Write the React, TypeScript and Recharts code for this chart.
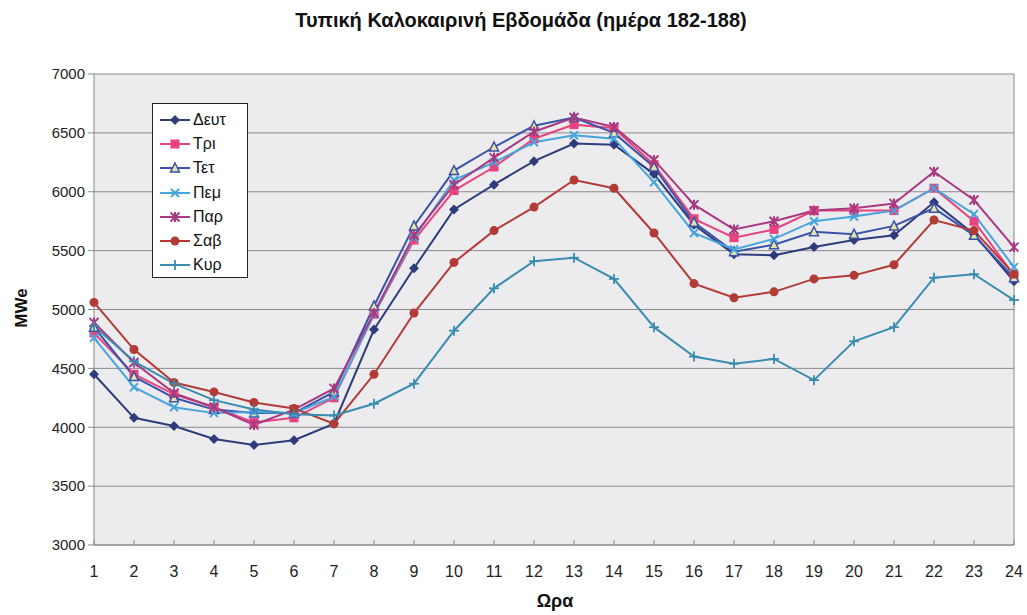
import React from 'react';
import { LineChart, Line, XAxis, YAxis, CartesianGrid, ReferenceLine } from 'recharts';

const hours = [1, 2, 3, 4, 5, 6, 7, 8, 9, 10, 11, 12, 13, 14, 15, 16, 17, 18, 19, 20, 21, 22, 23, 24];
const yTicks = [3000, 3500, 4000, 4500, 5000, 5500, 6000, 6500, 7000];

const deut = [4450, 4080, 4010, 3900, 3850, 3890, 4030, 4830, 5350, 5850, 6060, 6260, 6410, 6400, 6150, 5720, 5470, 5460, 5530, 5590, 5630, 5910, 5640, 5240];
const tri = [4800, 4450, 4280, 4170, 4040, 4080, 4250, 4960, 5590, 6010, 6210, 6450, 6570, 6540, 6230, 5770, 5610, 5680, 5840, 5840, 5840, 6030, 5750, 5290];
const tet = [4850, 4430, 4250, 4150, 4120, 4120, 4300, 5030, 5710, 6180, 6380, 6560, 6630, 6500, 6210, 5740, 5490, 5550, 5660, 5640, 5710, 5860, 5630, 5270];
const pem = [4760, 4340, 4170, 4120, 4130, 4120, 4260, 4960, 5610, 6100, 6250, 6420, 6480, 6450, 6080, 5650, 5510, 5600, 5750, 5790, 5840, 6030, 5810, 5360];
const par = [4890, 4550, 4290, 4170, 4020, 4150, 4330, 4970, 5630, 6060, 6290, 6510, 6630, 6550, 6270, 5890, 5680, 5750, 5840, 5860, 5900, 6170, 5930, 5530];
const sab = [5060, 4660, 4380, 4300, 4210, 4160, 4030, 4450, 4970, 5400, 5670, 5870, 6100, 6030, 5650, 5220, 5100, 5150, 5260, 5290, 5380, 5760, 5670, 5300];
const kyr = [4860, 4560, 4370, 4230, 4150, 4110, 4100, 4200, 4370, 4820, 5180, 5410, 5440, 5260, 4850, 4600, 4540, 4580, 4400, 4730, 4850, 5270, 5300, 5080];

const series = [
  { key: 'deut', name: 'Δευτ', color: '#2E3C7C', shape: 'diamond', values: deut },
  { key: 'tri', name: 'Τρι', color: '#E8437E', shape: 'square', values: tri },
  { key: 'tet', name: 'Τετ', color: '#3A52A8', shape: 'triangle', values: tet },
  { key: 'pem', name: 'Πεμ', color: '#45A5DC', shape: 'x', values: pem },
  { key: 'par', name: 'Παρ', color: '#A83A82', shape: 'star', values: par },
  { key: 'sab', name: 'Σαβ', color: '#B23B36', shape: 'circle', values: sab },
  { key: 'kyr', name: 'Κυρ', color: '#3A8CB0', shape: 'plus', values: kyr },
];

const data = hours.map((h, i) => {
  const row: any = { hour: h };
  series.forEach((s) => { row[s.key] = s.values[i]; });
  return row;
});

const FONT = '"Liberation Sans Narrow", "Liberation Sans", Arial, sans-serif';

const drawMarker = (shape: string, cx: number, cy: number, color: string, key?: any) => {
  switch (shape) {
    case 'diamond':
      return <polygon key={key} points={`${cx},${cy - 5} ${cx + 5},${cy} ${cx},${cy + 5} ${cx - 5},${cy}`} fill={color} />;
    case 'square':
      return <rect key={key} x={cx - 4.5} y={cy - 4.5} width={9} height={9} fill={color} />;
    case 'triangle':
      return <polygon key={key} points={`${cx},${cy - 5} ${cx + 4.5},${cy + 4} ${cx - 4.5},${cy + 4}`} fill="#E6E2A8" stroke={color} strokeWidth={1.5} />;
    case 'x':
      return (
        <g key={key} stroke={color} strokeWidth={2}>
          <line x1={cx - 4} y1={cy - 4} x2={cx + 4} y2={cy + 4} />
          <line x1={cx - 4} y1={cy + 4} x2={cx + 4} y2={cy - 4} />
        </g>
      );
    case 'star':
      return (
        <g key={key} stroke={color} strokeWidth={2}>
          <line x1={cx - 4.5} y1={cy - 4.5} x2={cx + 4.5} y2={cy + 4.5} />
          <line x1={cx - 4.5} y1={cy + 4.5} x2={cx + 4.5} y2={cy - 4.5} />
          <line x1={cx} y1={cy - 5} x2={cx} y2={cy + 5} />
        </g>
      );
    case 'circle':
      return <circle key={key} cx={cx} cy={cy} r={4.5} fill={color} />;
    case 'plus':
    default:
      return (
        <g key={key} stroke={color} strokeWidth={1.8}>
          <line x1={cx - 5} y1={cy} x2={cx + 5} y2={cy} />
          <line x1={cx} y1={cy - 5} x2={cx} y2={cy + 5} />
        </g>
      );
  }
};

const makeDot = (shape: string, color: string) => (props: any) => {
  const { cx, cy, index } = props;
  if (cx == null || cy == null) return <g key={`e${index}`} />;
  return drawMarker(shape, cx, cy, color, `${shape}-${index}`);
};

const LegendBox = () => (
  <div style={{ position: 'absolute', left: 152, top: 103, width: 96, height: 175, background: '#fff', border: '1px solid #222', padding: '4px 0 0 6px', boxSizing: 'border-box' }}>
    {series.map((s) => (
      <div key={s.key} style={{ display: 'flex', alignItems: 'center', height: 24.2 }}>
        <svg width={32} height={14}>
          <line x1={1} y1={7} x2={31} y2={7} stroke={s.color} strokeWidth={2} />
          {drawMarker(s.shape, 16, 7, s.color)}
        </svg>
        <span style={{ fontFamily: FONT, fontSize: 16, color: '#111', marginLeft: 2 }}>{s.name}</span>
      </div>
    ))}
  </div>
);

export default function App() {
  return (
    <div style={{ position: 'absolute', left: 0, top: 0, width: 1027, height: 615, background: '#fff', fontFamily: FONT }}>
      <div style={{ position: 'absolute', left: 0, top: 9, width: 1042, textAlign: 'center', fontSize: 20, fontWeight: 'bold', color: '#111' }}>
        Τυπική Καλοκαιρινή Εβδομάδα (ημέρα 182-188)
      </div>
      <LineChart width={1027} height={615} data={data} margin={{ top: 74, right: 13, bottom: 40, left: 0 }}>
        <CartesianGrid vertical={false} stroke="#8a8a8a" fill="#ECECEE" fillOpacity={1} />
        <XAxis
          dataKey="hour"
          ticks={hours}
          interval={0}
          axisLine={{ stroke: '#888' }}
          tickLine={{ stroke: '#888' }}
          tickSize={-5}
          tickMargin={26}
          tick={{ fontSize: 16, fill: '#222', fontFamily: FONT }}
        />
        <YAxis
          width={94}
          domain={[3000, 7000]}
          ticks={yTicks}
          interval={0}
          axisLine={{ stroke: '#888' }}
          tickLine={{ stroke: '#888' }}
          tickSize={6}
          tickMargin={3}
          tick={{ fontSize: 15, fill: '#222', fontFamily: FONT }}
        />
        <ReferenceLine x={24} stroke="#888" strokeWidth={1} />
        {series.map((s) => (
          <Line
            key={s.key}
            type="linear"
            dataKey={s.key}
            name={s.name}
            stroke={s.color}
            strokeWidth={2}
            dot={makeDot(s.shape, s.color)}
            activeDot={false}
            isAnimationActive={false}
          />
        ))}
      </LineChart>
      <LegendBox />
      <div style={{ position: 'absolute', left: 2, top: 298, width: 40, textAlign: 'center', transform: 'rotate(-90deg)', fontSize: 17, fontWeight: 'bold', color: '#111' }}>
        MWe
      </div>
      <div style={{ position: 'absolute', left: 520, top: 591, width: 70, textAlign: 'center', fontSize: 18, fontWeight: 'bold', color: '#111' }}>
        Ωρα
      </div>
    </div>
  );
}
